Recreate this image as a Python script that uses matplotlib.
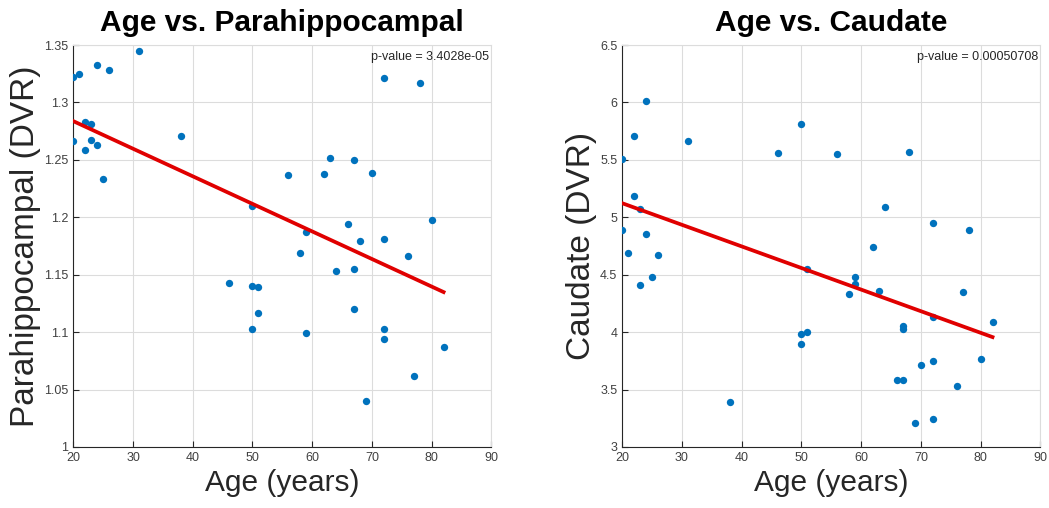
import numpy as np
import matplotlib
matplotlib.use("Agg")
import matplotlib.pyplot as plt

# ages of the 42 subjects (same for both panels)
age = [20, 21, 24, 26, 31, 22, 23, 20, 23, 24, 22, 25, 38, 56, 50, 72, 78, 63, 62, 67, 70,
       80, 59, 66, 68, 72, 46, 50, 51, 51, 50, 58, 76, 64, 67, 67, 59, 72, 72, 82, 77, 69]
parahippo = [1.322, 1.3245, 1.333, 1.328, 1.345, 1.283, 1.281, 1.266, 1.267, 1.263, 1.259,
             1.233, 1.271, 1.237, 1.210, 1.321, 1.317, 1.252, 1.238, 1.250, 1.2385, 1.198,
             1.187, 1.194, 1.179, 1.181, 1.143, 1.140, 1.139, 1.117, 1.103, 1.169, 1.166,
             1.153, 1.155, 1.120, 1.099, 1.103, 1.094, 1.087, 1.062, 1.040]

age_c = [24, 22, 20, 31, 46, 50, 22, 23, 20, 24, 56, 68, 64, 72, 78, 62, 21, 26, 23, 25, 51,
         50, 51, 50, 38, 59, 59, 58, 63, 77, 72, 67, 67, 82, 80, 72, 70, 66, 67, 76, 69, 72]
caudate = [6.010, 5.705, 5.507, 5.666, 5.562, 5.815, 5.185, 5.071, 4.891, 4.854, 5.548, 5.568,
           5.091, 4.947, 4.886, 4.740, 4.686, 4.668, 4.409, 4.476, 4.546, 3.983, 4.000, 3.895,
           3.393, 4.482, 4.421, 4.331, 4.357, 4.351, 4.128, 4.052, 4.023, 4.084, 3.767, 3.750,
           3.710, 3.579, 3.584, 3.532, 3.205, 3.248]

titles = ["Age vs. Parahippocampal", "Age vs. Caudate"]
ylabels = ["Parahippocampal (DVR)", "Caudate (DVR)"]
pvals = ["p-value = 3.4028e-05", "p-value = 0.00050708"]
ylims = [(1.0, 1.35), (3.0, 6.5)]
yticks = [[1, 1.05, 1.1, 1.15, 1.2, 1.25, 1.3, 1.35], [3, 3.5, 4, 4.5, 5, 5.5, 6, 6.5]]
ytl = [["1", "1.05", "1.1", "1.15", "1.2", "1.25", "1.3", "1.35"],
       ["3", "3.5", "4", "4.5", "5", "5.5", "6", "6.5"]]
xticks = [20, 30, 40, 50, 60, 70, 80, 90]

plt.rcParams['font.family'] = ['Liberation Sans', 'DejaVu Sans']

fig = plt.figure(figsize=(10.49, 5.08), dpi=100)
lefts = [0.0699, 0.5932]
data = [(age, parahippo), (age_c, caudate)]

for i in range(2):
    ax = fig.add_axes([lefts[i], 0.1201, 0.3985, 0.7913])
    x, y = np.array(data[i][0]), np.array(data[i][1])
    ax.scatter(x, y, s=28, color="#0072BD", zorder=3, linewidths=0)
    # least squares fit line
    k, b = np.polyfit(x, y, 1)
    xs = np.array([x.min(), x.max()])
    ax.plot(xs, k * xs + b, color="#E00000", lw=2.7, zorder=4)
    ax.set_xlim(20, 90)
    ax.set_ylim(*ylims[i])
    ax.set_xticks(xticks)
    ax.set_yticks(yticks[i])
    ax.set_yticklabels(ytl[i])
    ax.grid(True, color="#dcdcdc", lw=0.8)
    ax.set_axisbelow(True)
    for s in ["top", "right"]:
        ax.spines[s].set_color("#dcdcdc")
    for s in ["left", "bottom"]:
        ax.spines[s].set_color("#262626")
    ax.tick_params(direction="in", labelsize=9, colors="#262626", labelcolor="#404040",
                   length=4, top=False, right=False)
    ax.set_title(titles[i], fontsize=21.5, fontweight="bold", pad=10)
    ax.set_xlabel("Age (years)", fontsize=21.5, color="#262626", labelpad=4)
    ax.set_ylabel(ylabels[i], fontsize=24, color="#262626", labelpad=2)
    ax.text(0.995, 0.985, pvals[i], transform=ax.transAxes, ha="right", va="top",
            fontsize=9, color="#262626")

fig.savefig("out.png", dpi=100, facecolor="white")
